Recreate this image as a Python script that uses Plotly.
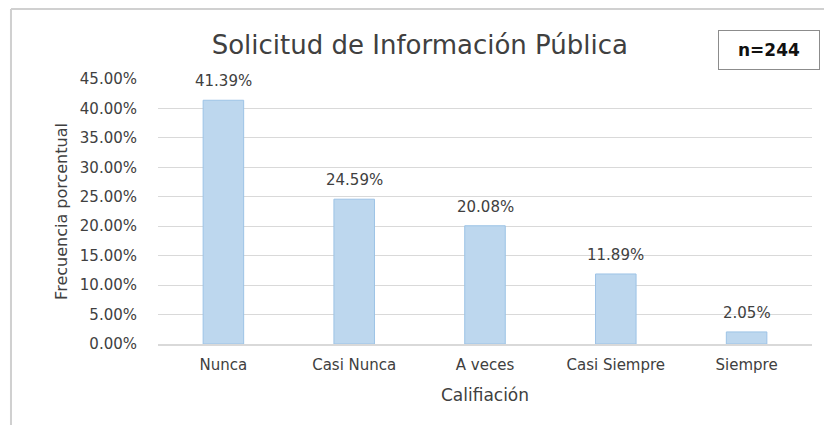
import plotly.graph_objects as go

categorias = ["Nunca", "Casi Nunca", "A veces", "Casi Siempre", "Siempre"]
frecuencias = [0.4139, 0.2459, 0.2008, 0.1189, 0.0205]
ticks_y = [0, 0.05, 0.10, 0.15, 0.20, 0.25, 0.30, 0.35, 0.40, 0.45]

gris = "#404040"
fuente = "DejaVu Sans, sans-serif"

fig = go.Figure()
fig.add_trace(go.Bar(
    x=categorias,
    y=frecuencias,
    width=0.31,
    marker=dict(color="#BDD7EE", line=dict(color="#9DC3E6", width=1)),
    hoverinfo="x+y",
))

# etiquetas de datos, por encima de cada barra
for c, v in zip(categorias, frecuencias):
    fig.add_annotation(
        x=c, y=v, text=f"{v*100:.2f}%", showarrow=False,
        yanchor="middle", yshift=19,
        font=dict(family=fuente, size=15, color=gris),
    )

# recuadro n=244
fig.add_annotation(
    xref="paper", yref="paper", x=0.9335, y=1.109,
    xanchor="center", yanchor="middle",
    text="<b>n=244</b>", showarrow=False,
    width=98, height=36, bordercolor="#8c8c8c", borderwidth=1,
    bgcolor="white", font=dict(family=fuente, size=17, color="#111111"),
)

# borde del área del gráfico (izquierda y arriba)
fig.add_shape(type="line", xref="paper", yref="paper",
              x0=-0.2248, x1=-0.2248, y0=1.264, y1=-0.35,
              line=dict(color="#d0d0d0", width=2))
fig.add_shape(type="line", xref="paper", yref="paper",
              x0=-0.2248, x1=1.05, y0=1.264, y1=1.264,
              line=dict(color="#d0d0d0", width=2))

# la página tiene 8 px de margen: el área de trazado se coloca compensándolo
fig.update_layout(
    width=832, height=425,
    margin=dict(l=150, r=28, t=71, b=89),
    paper_bgcolor="white", plot_bgcolor="white",
    showlegend=False,
    title=dict(text="Solicitud de Información Pública", x=0.495, y=1 - 37 / 425,
               xanchor="center", yanchor="middle",
               font=dict(family=fuente, size=26, color=gris)),
    font=dict(family=fuente, size=15, color=gris),
)
fig.update_yaxes(
    range=[0, 0.45], tickvals=ticks_y, tickformat=".2%",
    showgrid=True, gridcolor="#d9d9d9", gridwidth=1,
    zeroline=False, showline=False, ticks="", ticklabelstandoff=20,
    title=dict(text="Frecuencia porcentual", standoff=8,
               font=dict(family=fuente, size=16, color=gris)),
)
fig.update_xaxes(
    showline=True, linecolor="#d9d9d9", linewidth=1.5,
    ticks="", ticklabelstandoff=6,
    title=dict(text="Califiación", standoff=16,
               font=dict(family=fuente, size=17, color=gris)),
)

fig.write_html("out.html")
